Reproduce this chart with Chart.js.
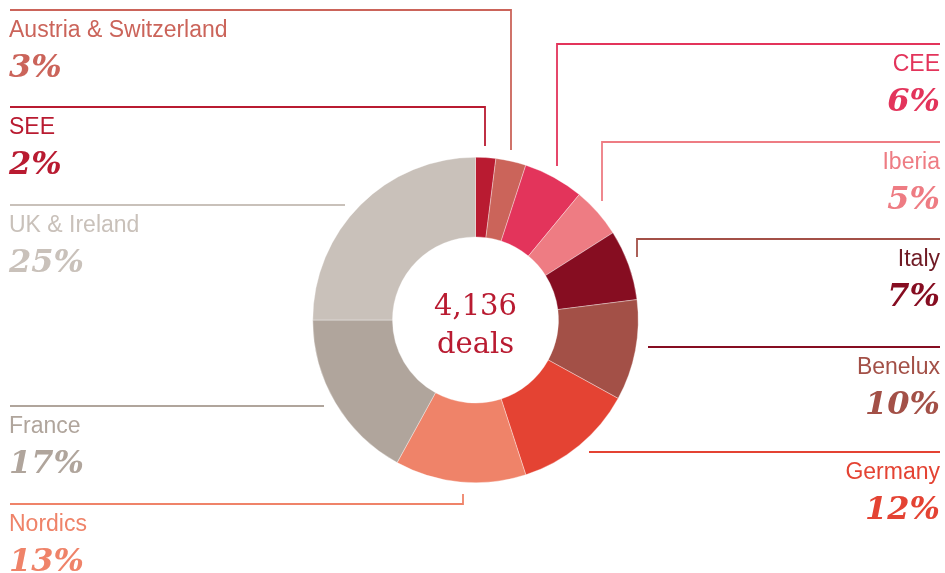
<!DOCTYPE html>
<html>
<head>
<meta charset="utf-8">
<script src="https://cdn.jsdelivr.net/npm/chart.js@4.4.1/dist/chart.umd.min.js"></script>
<style>
    html, body { margin: 0; padding: 0; background: #fff; }
    #wrap { width: 945px; height: 573px; position: relative; }
</style>
</head>
<body>
<div id="wrap"><canvas id="grafico-deals" width="945" height="573"></canvas></div>
<script>
// Datos del grafico (en sentido horario desde arriba)
const regions = ['SEE', 'Austria & Switzerland', 'CEE', 'Iberia', 'Italy', 'Benelux', 'Germany', 'Nordics', 'France', 'UK & Ireland'];
const shares = [2, 3, 6, 5, 7, 10, 12, 13, 17, 25];
const totalDeals = '4,136';
const centerWord = 'deals';

const sliceColors = ['#b91b31', '#cb645a', '#e3345b', '#ee7c83', '#860d21', '#a35047', '#e44333', '#ef8369', '#b0a59c', '#c9c1ba'];

// Posicion de etiquetas y lineas guia (mismo orden que regions)
const labelLayout = [
    { side: 'left',  lineY: 107, edgeX: 485, dropY: 146, line: '#b91b31' },
    { side: 'left',  lineY: 10,  edgeX: 511, dropY: 150, line: '#cb645a' },
    { side: 'right', lineY: 44,  edgeX: 557, dropY: 166, line: '#e3345b' },
    { side: 'right', lineY: 142, edgeX: 602, dropY: 201, line: '#ee7c83' },
    { side: 'right', lineY: 239, edgeX: 637, dropY: 257, line: '#a35047' },
    { side: 'right', lineY: 347, edgeX: 648, dropY: null, line: '#860d21' },
    { side: 'right', lineY: 452, edgeX: 589, dropY: null, line: '#e44333' },
    { side: 'left',  lineY: 504, edgeX: 463, dropY: 494, line: '#ef8369' },
    { side: 'left',  lineY: 406, edgeX: 324, dropY: null, line: '#b0a59c' },
    { side: 'left',  lineY: 205, edgeX: 345, dropY: null, line: '#c9c1ba' }
];
const nameColors = ['#b91b31', '#cb645a', '#e3345b', '#ee7c83', '#6f1a24', '#a35047', '#e44333', '#ef8369', '#b0a59c', '#c9c1ba'];

// Plugin para lineas guia, etiquetas y texto central
const etiquetasPlugin = {
    id: 'etiquetas',
    afterDraw(chart) {
        const ctx = chart.ctx;
        const leftX = 10, rightX = 940;
        ctx.save();
        labelLayout.forEach((l, i) => {
            ctx.strokeStyle = l.line;
            ctx.lineWidth = 1.8;
            ctx.beginPath();
            if (l.side === 'left') {
                ctx.moveTo(leftX, l.lineY);
                ctx.lineTo(l.edgeX, l.lineY);
            } else {
                ctx.moveTo(rightX, l.lineY);
                ctx.lineTo(l.edgeX, l.lineY);
            }
            if (l.dropY !== null) ctx.lineTo(l.edgeX, l.dropY);
            ctx.stroke();

            const tx = l.side === 'left' ? 9 : rightX;
            ctx.textAlign = l.side === 'left' ? 'left' : 'right';
            ctx.textBaseline = 'alphabetic';
            ctx.fillStyle = nameColors[i];
            ctx.font = '23px "Liberation Sans", Arial, sans-serif';
            ctx.fillText(regions[i], tx, l.lineY + 27);
            ctx.fillStyle = sliceColors[i];
            ctx.font = 'italic bold 32px "DejaVu Serif", Georgia, serif';
            ctx.fillText(shares[i] + '%', tx, l.lineY + 67);
        });

        // Texto central
        const arc = chart.getDatasetMeta(0).data[0];
        ctx.fillStyle = '#b91b31';
        ctx.textAlign = 'center';
        ctx.font = '29px "DejaVu Serif", Georgia, serif';
        ctx.fillText(totalDeals, arc.x, arc.y - 5);
        ctx.fillText(centerWord, arc.x, arc.y + 33);
        ctx.restore();
    }
};

new Chart(document.getElementById('grafico-deals').getContext('2d'), {
    type: 'doughnut',
    data: {
        labels: regions,
        datasets: [{
            data: shares,
            backgroundColor: sliceColors,
            borderWidth: 0.5,
            borderColor: 'rgba(255,255,255,0.7)'
        }]
    },
    options: {
        responsive: false,
        animation: false,
        cutout: '51%',
        layout: {
            padding: { left: 312, right: 306, top: 157, bottom: 90 }
        },
        plugins: {
            legend: { display: false },
            tooltip: { enabled: false }
        }
    },
    plugins: [etiquetasPlugin]
});
</script>
</body>
</html>
